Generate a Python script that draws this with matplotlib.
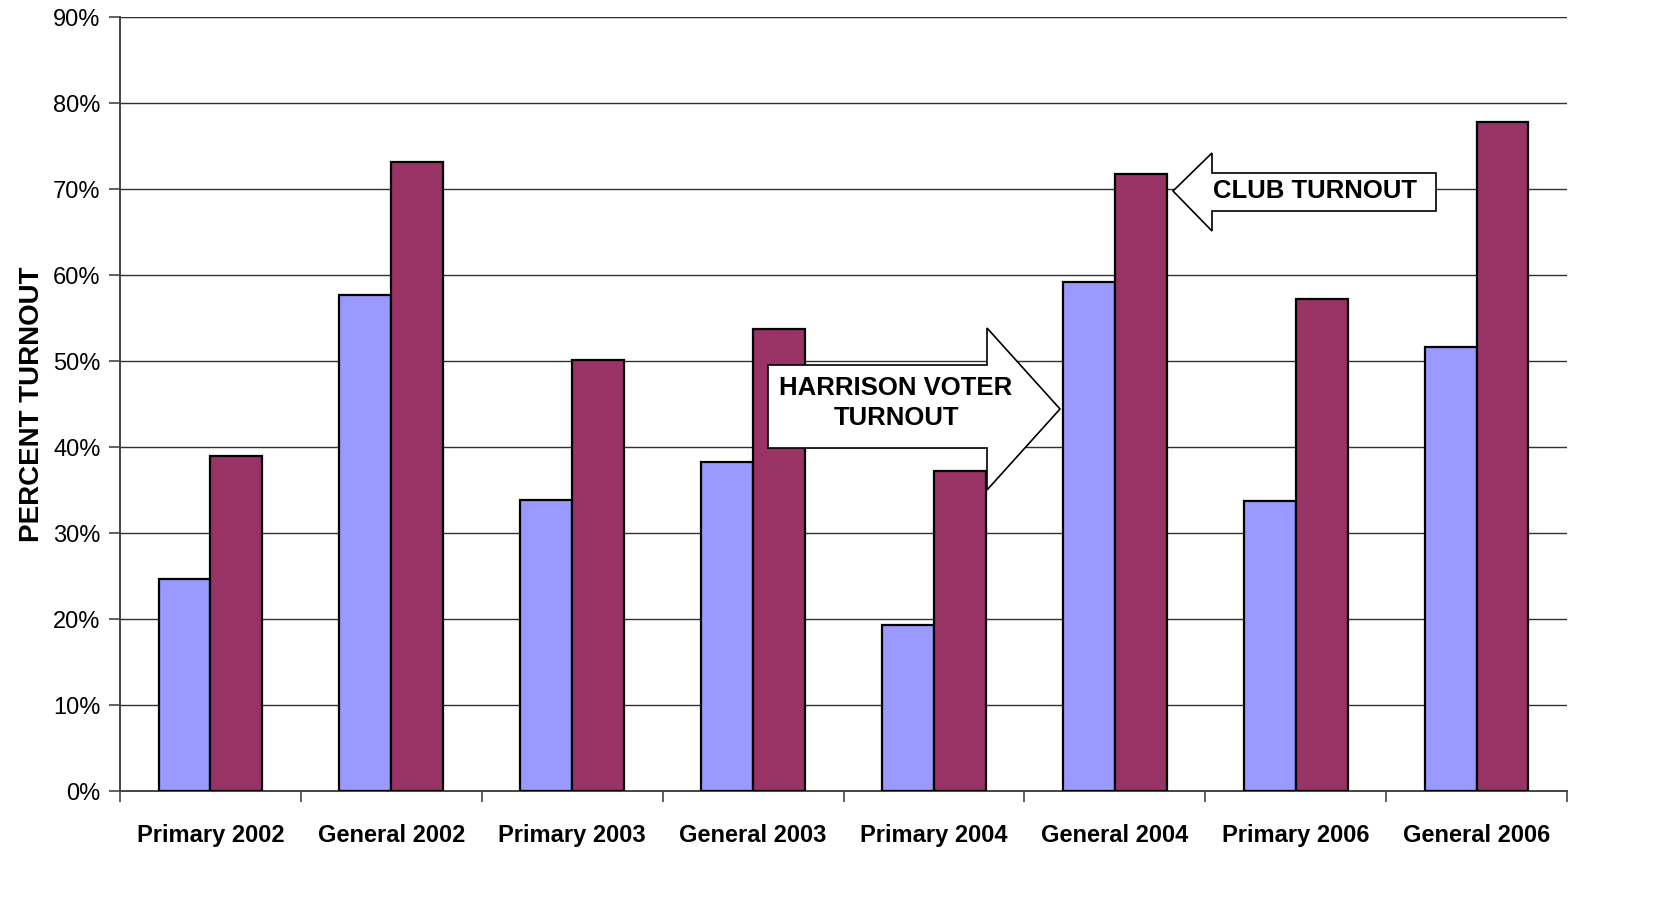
import numpy as np
import matplotlib
matplotlib.use("Agg")
import matplotlib.pyplot as plt
from matplotlib.patches import Polygon
from matplotlib.ticker import FuncFormatter, MultipleLocator, FixedLocator

plt.rcParams['font.family'] = ['Liberation Sans', 'DejaVu Sans']

# data
elections = ["Primary 2002", "General 2002", "Primary 2003", "General 2003",
             "Primary 2004", "General 2004", "Primary 2006", "General 2006"]
harrison = [24.7, 57.7, 33.8, 38.3, 19.3, 59.2, 33.7, 51.6]
club = [38.9, 73.1, 50.1, 53.7, 37.2, 71.7, 57.2, 77.8]

W, H = 1671, 897
fig = plt.figure(figsize=(W / 100, H / 100), dpi=100)
L, R, T, B = 120, 1567, 17, 791
ax = fig.add_axes([L / W, 1 - B / H, (R - L) / W, (B - T) / H])

x = np.arange(len(elections))
bw = 0.287
ax.bar(x - bw / 2, harrison, bw, color='#9999FF', edgecolor='black', lw=1.6, zorder=3)
ax.bar(x + bw / 2, club, bw, color='#993366', edgecolor='black', lw=1.6, zorder=3)

ax.set_xlim(-0.5, len(elections) - 0.5)
ax.set_ylim(0, 90)
ax.yaxis.set_major_locator(MultipleLocator(10))
ax.yaxis.set_major_formatter(FuncFormatter(lambda v, p: f"{v:.0f}%"))
ax.grid(axis='y', color='#303030', lw=1.0, zorder=0)

ax.set_xticks(x)
ax.set_xticklabels(elections, fontsize=17, fontweight='bold')
ax.xaxis.set_minor_locator(FixedLocator(np.arange(-0.5, len(elections), 1.0)))
ax.tick_params(axis='x', which='major', length=0, pad=24)
ax.tick_params(axis='x', which='minor', length=8, width=1.2, color='#444444')
ax.tick_params(axis='y', length=8, width=1.2, color='#444444', labelsize=17, pad=6)

for s in ['right', 'top']:
    ax.spines[s].set_visible(False)
for s in ['left', 'bottom']:
    ax.spines[s].set_color('#444444')
    ax.spines[s].set_linewidth(1.4)
ax.axhline(90, color='#888888', lw=1.6, zorder=1)

ax.set_ylabel("PERCENT TURNOUT", fontsize=20, fontweight='bold', labelpad=6)


def px(xp, yp):
    return ((xp - L) / (R - L), (B - yp) / (B - T))


# left-pointing arrow (club)
club_arrow = [px(1173, 191), px(1212, 153), px(1212, 173), px(1436, 173),
              px(1436, 211), px(1212, 211), px(1212, 231)]
ax.add_patch(Polygon(club_arrow, closed=True, transform=ax.transAxes,
                     facecolor='white', edgecolor='black', lw=1.2, zorder=5, clip_on=False))
ax.text(*px(1315, 191), "CLUB TURNOUT", transform=ax.transAxes, ha='center', va='center',
        fontsize=18.5, fontweight='bold', zorder=6)

# right-pointing arrow (harrison)
harr_arrow = [px(768, 365), px(987, 365), px(987, 328), px(1060, 409),
              px(987, 490), px(987, 448), px(768, 448)]
ax.add_patch(Polygon(harr_arrow, closed=True, transform=ax.transAxes,
                     facecolor='white', edgecolor='black', lw=1.2, zorder=5, clip_on=False))
ax.text(*px(896, 403), "HARRISON VOTER\nTURNOUT", transform=ax.transAxes, ha='center',
        va='center', fontsize=18.5, fontweight='bold', zorder=6, linespacing=1.3)

fig.savefig("out.png", dpi=100)
